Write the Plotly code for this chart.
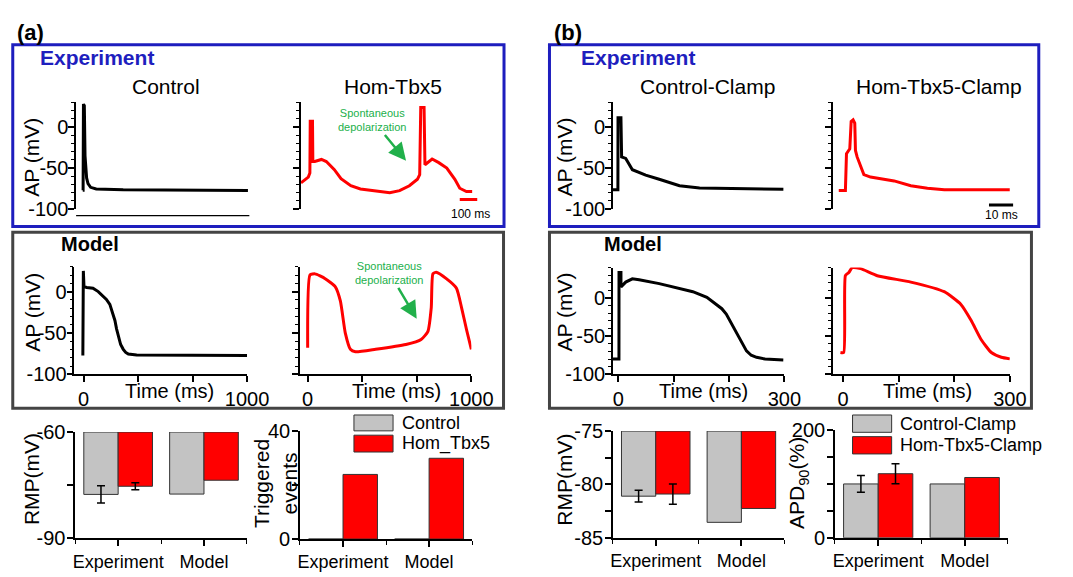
import plotly.graph_objects as go

W, H = 1073, 577
FONT = "Arial, 'Liberation Sans', sans-serif"
BLACK = "#000000"
RED = "#ff0000"
GRAY = "#c3c3c3"
BLUE = "#1e1ebe"
BOXGRAY = "#444444"
GREEN = "#21b04b"

# ---------------- data ----------------
# (a) Experiment traces (time in ms, AP in mV)
exp_ctrl_t = [0, 2, 4, 9, 13, 17, 22, 30, 45, 77, 231, 944]
exp_ctrl_v = [-77, -77, 28, 26, -35, -52, -62, -69, -73.5, -75.5, -76.6, -77.5]
exp_hom_t = [0, 42, 51, 53, 66, 68, 79, 117, 145, 191, 229, 285, 340, 415, 508, 564, 620, 666,
             679, 685, 704, 709, 732, 750, 788, 834, 880, 908, 946, 979]
exp_hom_v = [-68, -61, -56, 7, 7, -42, -42, -39.5, -42, -52, -63, -71.6, -75.5, -77.5, -80.2, -77.5,
             -71.6, -63.7, -58, 24, 24, -46, -42.3, -39, -43.4, -50, -63.7, -74.6, -78.6, -78.6]
# (b) Experiment dynamic-clamp traces
clamp_ctrl_t = [-2.06, 0, 0.05, 1.26, 1.54, 3.24, 6, 11.5, 17.1, 25.5, 33.8, 39.4, 68.5]
clamp_ctrl_v = [-76.6, -76.6, 11.4, 11.4, -36.4, -38.3, -52, -58.7, -63.7, -71.6, -74.3, -74.6, -75.8]
clamp_hom_t = [-2.75, 0, 0.45, 1.82, 2.39, 3.2, 3.89, 4.17, 4.86, 7.65, 10.4, 20.2, 27.1, 34, 41, 68.1]
clamp_hom_v = [-77.5, -77.5, -32.4, -26.5, 6.7, 8.7, 4.7, -28.5, -36.4, -57.9, -61, -65.7, -71.6,
               -74.6, -76.6, -76.6]
# (a) Model traces
model_a_ctrl_t = [-4, -1, 3, 20, 58, 90, 119, 140, 161, 176, 192, 202, 212, 227, 243, 258, 274,
                  325, 1000]
model_a_ctrl_v = [-77.4, 25, 6, 5, 4, 0, -5.8, -9.5, -15.5, -24, -34.9, -45, -54.2, -64, -69.8,
                  -73.5, -75.6, -76.7, -77.4]
model_a_hom_t = [0, 14, 45, 107, 169, 200, 230, 261, 292, 415, 600, 693, 734, 755, 765, 785, 847,
                 909, 940, 971, 1000]
model_a_hom_v = [-67.8, 20, 21.4, 15.6, 5.8, -11.6, -50.3, -69.8, -72.8, -69.8, -64, -58, -48.4,
                 -19.3, 21.4, 23.3, 15.6, 4, -19.3, -46.5, -70]
# (b) Model traces
model_b_ctrl_t = [-9.7, 1.2, 1.3, 4.8, 4.9, 13.4, 25.4, 37.6, 74, 105, 134.6, 160, 177, 187, 195,
                  204, 213, 222, 231.5, 240, 249.7, 265, 298]
model_b_ctrl_v = [-79.8, -79.8, 33.5, 33.5, 14.6, 20.9, 25.2, 23.9, 18.9, 13.5, 8.3, 1, -8.4, -14,
                  -21, -33, -46.2, -58.5, -69.3, -75, -77.7, -80, -81.1]
model_b_hom_t = [-4.7, 1.2, 4.2, 10.4, 16.4, 31.5, 61.5, 121.9, 182, 212, 230.5, 248.6, 266.7, 284.8, 300]
model_b_hom_v = [-71.4, -71.4, 29.3, 33.5, 39.8, 38.5, 29.3, 20.9, 8.3, -8.4, -29.5, -54.7, -71.4,
                 -77.7, -79.8]

# bar charts
groups = ["Experiment", "Model"]
group_pos = [1, 2]
rmp_a_ctrl = [-77.6, -77.5]
rmp_a_ctrl_err = [2.45]          # experiment only
rmp_a_hom = [-75.3, -73.6]
rmp_a_hom_err = [1.0]
trig_ctrl = [0, 0]
trig_hom = [24, 30]
rmp_b_ctrl = [-81.1, -83.55]
rmp_b_ctrl_err = [0.55]
rmp_b_hom = [-80.9, -82.25]
rmp_b_hom_err = [0.95]
apd_ctrl = [100, 100]
apd_ctrl_err = [15.5]
apd_hom = [119, 112]
apd_hom_err = [18.5]
legend_a = ["Control", "Hom_Tbx5"]
legend_b = ["Control-Clamp", "Hom-Tbx5-Clamp"]
RMP_A_BASE = -60
RMP_B_BASE = -75


def px_x(a, b):
    return [a / W, b / W]


def px_y(top, bottom):
    return [1 - bottom / H, 1 - top / H]


fig = go.Figure()
layout = dict(width=W, height=H, margin=dict(l=0, r=0, t=0, b=0), paper_bgcolor="white",
              plot_bgcolor="white", showlegend=False, barmode="overlay",
              font=dict(family=FONT, color="black"))

axline = dict(showline=True, linecolor="black", linewidth=1.5, ticks="outside", ticklen=6,
              tickwidth=1.5, tickcolor="black", showgrid=False, zeroline=False, fixedrange=True)


def ap_yaxis(dom, rng, labels=True):
    d = dict(axline, domain=dom, range=rng, tickvals=[-100, -50, 0],
             ticktext=["-100", "-50", "0"], showticklabels=labels, tickfont=dict(size=20),
             ticklabelstandoff=-4,
             minor=dict(ticks="outside", ticklen=3, tickwidth=1.2, tickcolor="black", dtick=10, tick0=0))
    return d


def name(i):
    return "" if i == 1 else str(i)


AP_EXP_Y = px_y(95.1, 205.9)
panels = {
    1: dict(x=px_x(75.8, 253), xr=[-38, 952]),
    2: dict(x=px_x(305.8, 487), xr=[0, 1013]),
    3: dict(x=px_x(624.9, 800), xr=[-2.06, 68.8]),
    4: dict(x=px_x(850, 1035), xr=[-5.14, 69.8]),
}
for i, p in panels.items():
    layout["xaxis" + name(i)] = dict(domain=p["x"], range=p["xr"], visible=False, anchor="y" + name(i),
                                     fixedrange=True)
    layout["yaxis" + name(i)] = dict(ap_yaxis(AP_EXP_Y, [-100, 30], labels=(i in (1, 3))),
                                     anchor="x" + name(i))

model_panels = {
    5: dict(x=px_x(74, 250.7), xr=[-56, 1000], y=px_y(265.9, 377.7), yr=[-100, 30],
            tv=[0, 1000 / 3, 2000 / 3, 1000], tt=["0", "", "", "1000"], lab=True),
    6: dict(x=px_x(304.8, 480.1), xr=[-47, 1000], y=px_y(265.9, 377.7), yr=[-100, 30],
            tv=[0, 1000 / 3, 2000 / 3, 1000], tt=["0", "", "", "1000"], lab=False),
    7: dict(x=px_x(624.9, 800.3), xr=[-9.7, 300], y=px_y(266.7, 377.7), yr=[-100, 40],
            tv=[0, 100, 200, 300], tt=["0", "", "", "300"], lab=True),
    8: dict(x=px_x(850, 1030.9), xr=[-18.1, 300], y=px_y(266.7, 377.7), yr=[-100, 40],
            tv=[0, 100, 200, 300], tt=["0", "", "", "300"], lab=False),
}
for i, p in model_panels.items():
    layout["xaxis" + name(i)] = dict(axline, domain=p["x"], range=p["xr"], tickvals=p["tv"],
                                     ticktext=p["tt"], tickfont=dict(size=20), anchor="y" + name(i))
    layout["yaxis" + name(i)] = dict(ap_yaxis(p["y"], p["yr"], labels=p["lab"]), anchor="x" + name(i))

bar_panels = {
    9: dict(x=px_x(74.9, 250.5), y=px_y(437.7, 548.3), yr=[-90, -60],
            tv=[-90, -75, -60], tt=["-90", "", "-60"]),
    10: dict(x=px_x(304.8, 480.9), y=px_y(437, 549), yr=[0, 40],
             tv=[0, 20, 40], tt=["0", "", "40"]),
    11: dict(x=px_x(624.9, 800.1), y=px_y(436.7, 547.7), yr=[-85, -75],
             tv=[-85, -82.5, -80, -77.5, -75], tt=["-85", "", "-80", "", "-75"]),
    12: dict(x=px_x(852, 1029), y=px_y(435.7, 547.7), yr=[0, 200],
             tv=[0, 50, 100, 150, 200], tt=["0", "", "", "", "200"]),
}
for i, p in bar_panels.items():
    layout["xaxis" + name(i)] = dict(axline, domain=p["x"], range=[0.5, 2.5], tickvals=group_pos,
                                     ticktext=groups, tickfont=dict(size=18), anchor="y" + name(i),
                                     minor=dict(ticks="outside", ticklen=4, tickwidth=1.2,
                                                tickcolor="black", dtick=0.5, tick0=0.5))
    layout["yaxis" + name(i)] = dict(axline, domain=p["y"], range=p["yr"], tickvals=p["tv"],
                                     ticktext=p["tt"], tickfont=dict(size=20), anchor="x" + name(i),
                                     ticklabelstandoff=-2)


# ---------------- traces ----------------
def line(t, v, color, i, smooth=False):
    ln = dict(color=color, width=3)
    if smooth:
        ln.update(shape="spline", smoothing=0.5)
    fig.add_trace(go.Scatter(x=t, y=v, mode="lines", line=ln,
                             xaxis="x" + name(i), yaxis="y" + name(i), hoverinfo="skip"))


line(exp_ctrl_t, exp_ctrl_v, BLACK, 1)
line(exp_hom_t, exp_hom_v, RED, 2)
line(clamp_ctrl_t, clamp_ctrl_v, BLACK, 3)
line(clamp_hom_t, clamp_hom_v, RED, 4)
line(model_a_ctrl_t, model_a_ctrl_v, BLACK, 5)
line(model_a_hom_t, model_a_hom_v, RED, 6, smooth=True)
line(model_b_ctrl_t, model_b_ctrl_v, BLACK, 7)
line(model_b_hom_t, model_b_hom_v, RED, 8, smooth=True)


def bars(vals, color, offset, i, base=None, err=None):
    y = vals if base is None else [v - base for v in vals]
    kw = dict(x=group_pos, y=y, width=0.4, offset=offset,
              marker=dict(color=color, line=dict(color="#333333", width=1)),
              xaxis="x" + name(i), yaxis="y" + name(i), hoverinfo="skip")
    if base is not None:
        kw["base"] = base
    if err is not None:
        kw["error_y"] = dict(type="data", array=err, color="black", thickness=1.5, width=4)
    fig.add_trace(go.Bar(**kw))


bars(rmp_a_ctrl, GRAY, -0.4, 9, RMP_A_BASE, rmp_a_ctrl_err)
bars(rmp_a_hom, RED, 0.0, 9, RMP_A_BASE, rmp_a_hom_err)
bars(trig_ctrl, GRAY, -0.4, 10)
bars(trig_hom, RED, 0.0, 10)
bars(rmp_b_ctrl, GRAY, -0.4, 11, RMP_B_BASE, rmp_b_ctrl_err)
bars(rmp_b_hom, RED, 0.0, 11, RMP_B_BASE, rmp_b_hom_err)
bars(apd_ctrl, GRAY, -0.4, 12, None, apd_ctrl_err)
bars(apd_hom, RED, 0.0, 12, None, apd_hom_err)

# ---------------- decorations ----------------
shapes = []


def rect_px(x0, y0, x1, y1, color, width, fill=None):
    shapes.append(dict(type="rect", xref="paper", yref="paper", x0=x0 / W, x1=x1 / W,
                       y0=1 - y1 / H, y1=1 - y0 / H, line=dict(color=color, width=width),
                       fillcolor=fill if fill else "rgba(0,0,0,0)", layer="above"))


rect_px(11, 35, 513.5, 224, BLUE, 3)
rect_px(560, 35, 1060.5, 224, BLUE, 3)
rect_px(11, 230, 513, 413, BOXGRAY, 3)
rect_px(560, 230, 1053, 413, BOXGRAY, 3)

# line under experimental control trace
shapes.append(dict(type="line", xref="x domain", yref="y domain", x0=0, x1=1, y0=-0.061, y1=-0.061,
                   line=dict(color="black", width=1.2)))
# scale bars
SCALE_A_MS = 100
SCALE_B_MS = 10
shapes.append(dict(type="line", xref="x2", yref="y2", x0=908, x1=908 + SCALE_A_MS, y0=-88.4, y1=-88.4,
                   line=dict(color=RED, width=3)))
shapes.append(dict(type="line", xref="x4", yref="y4", x0=59.5, x1=59.5 + SCALE_B_MS, y0=-95, y1=-95,
                   line=dict(color=BLACK, width=3)))

# manual legends
rect_px(360, 420, 400, 436.5, "#333333", 1, GRAY)
rect_px(360, 441, 400, 458.5, "#333333", 1, RED)
rect_px(870, 420, 910, 438, "#333333", 1, GRAY)
rect_px(870, 442.5, 910, 460.5, "#333333", 1, RED)

ann = []


def text_px(text, x, y, size, color="black", bold=False, xanchor="center", angle=0):
    if bold:
        text = "<b>" + text + "</b>"
    ann.append(dict(text=text, x=x / W, y=1 - y / H, xref="paper", yref="paper", showarrow=False,
                    xanchor=xanchor, yanchor="middle", textangle=angle,
                    font=dict(size=size, color=color, family=FONT)))


text_px("(a)", 29, 22, 22, bold=True)
text_px("(b)", 578.5, 22, 22, bold=True)
text_px("Experiment", 37, 48, 21, BLUE, bold=True, xanchor="left")
text_px("Experiment", 590.5, 48, 21, BLUE, bold=True, xanchor="left")
text_px("Model", 90.5, 242, 20, bold=True)
text_px("Model", 645, 242, 20, bold=True)
text_px("Control", 167.7, 78, 21)
text_px("Hom-Tbx5", 399.5, 78, 21)
text_px("Control-Clamp", 722, 78, 21)
text_px("Hom-Tbx5-Clamp", 958.8, 78, 21)
for xx in (30.3, 575.2):
    text_px("AP (mV)", xx, 152, 21, angle=-90)
    text_px("AP (mV)", xx, 313, 21, angle=-90)
for xx in (171.7, 403.6, 717.6, 946.8):
    text_px("Time (ms)", xx, 395, 20)
text_px("RMP(mV)", 30.3, 487, 21, angle=-90)
text_px("RMP(mV)", 575.2, 487, 21, angle=-90)
text_px("Triggered<br>events", 280, 491, 21, angle=-90)
text_px("APD<sub>90</sub>(%)", 815, 491, 21, angle=-90)
text_px("100 ms", 479.3, 211, 12)
text_px("10 ms", 1022.3, 212.3, 12)
text_px(legend_a[0], 407.5, 428, 18, xanchor="left")
text_px(legend_a[1], 407.5, 449.5, 18, xanchor="left")
text_px(legend_b[0], 917, 429, 18, xanchor="left")
text_px(legend_b[1], 917, 451.5, 18, xanchor="left")

# green labels with arrows (label centred at tail, arrow points to the head), data coordinates
for xr, yr, tx, ty, hx, hy in (("x2", "y2", 408, 9, 601, -41),
                               ("x6", "y6", 498, 23, 666, -33)):
    ann.append(dict(text="Spontaneous<br>depolarization", x=hx, y=hy, xref=xr, yref=yr,
                    ax=tx, ay=ty, axref=xr, ayref=yr, showarrow=True, arrowhead=2, arrowsize=1.4,
                    arrowwidth=2.5, arrowcolor=GREEN, standoff=0, startstandoff=1,
                    font=dict(size=11, color=GREEN, family=FONT)))

layout["shapes"] = shapes
layout["annotations"] = ann
fig.update_layout(**layout)
fig.write_html("out.html")
